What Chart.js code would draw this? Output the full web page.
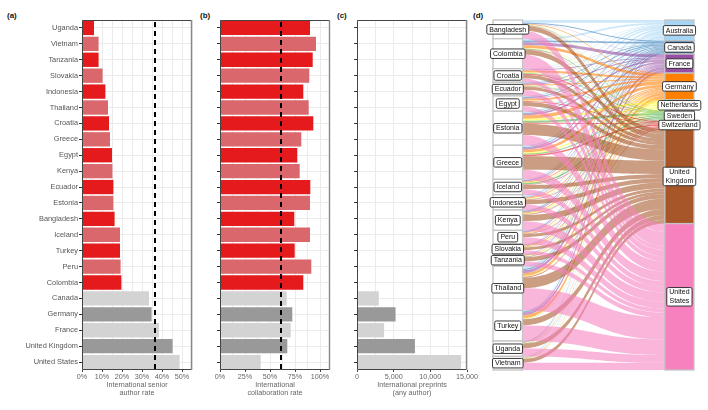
<!DOCTYPE html>
<html>
<head>
<meta charset="utf-8">
<script src="https://cdn.jsdelivr.net/npm/chart.js@4.4.1/dist/chart.umd.min.js"></script>
<style>
  body { margin: 0; background: #fff; width: 708px; height: 410px; position: relative; overflow: hidden;
         font-family: "Liberation Sans", Arial, sans-serif; }
  canvas { position: absolute; top: 0; }
  .tag { position: absolute; top: 12px; font-size: 8px; line-height: 8px; font-weight: bold; color: #111; }
</style>
</head>
<body>
<div class="tag" style="left:7px">(a)</div>
<div class="tag" style="left:200px">(b)</div>
<div class="tag" style="left:337px">(c)</div>
<div class="tag" style="left:473px">(d)</div>
<canvas id="ca" width="200" height="410" style="left:0px"></canvas>
<canvas id="cb" width="135" height="410" style="left:210px"></canvas>
<canvas id="cc" width="138" height="410" style="left:347px"></canvas>
<canvas id="cd" width="223" height="410" style="left:485px"></canvas>
<script>
// bar panels (a)-(c)
const countries = ['Uganda', 'Vietnam', 'Tanzania', 'Slovakia', 'Indonesia', 'Thailand', 'Croatia', 'Greece',
  'Egypt', 'Kenya', 'Ecuador', 'Estonia', 'Bangladesh', 'Iceland', 'Turkey', 'Peru', 'Colombia',
  'Canada', 'Germany', 'France', 'United Kingdom', 'United States'];
const seniorRate = [6.0, 8.3, 8.3, 10.3, 11.7, 13.0, 13.5, 14.0, 15.0, 15.2, 15.7, 15.7, 16.3, 19.0, 19.0,
  19.3, 19.7, 33.5, 34.8, 38.5, 45.3, 48.8];
const collabRate = [90.0, 96.0, 92.7, 89.3, 83.3, 88.7, 93.3, 81.3, 77.3, 79.7, 90.3, 90.0, 74.3, 90.0, 74.7,
  91.3, 83.3, 66.7, 72.3, 70.7, 67.3, 40.7];
const intlPreprints = [45, 40, 35, 30, 45, 130, 40, 100, 45, 60, 40, 100, 55, 45, 90, 40, 88,
  2970, 5260, 3700, 7900, 14200];
const seniorMean = 36.5;
const collabMean = 61;

const seniorTicks = [0, 10, 20, 30, 40, 50];
const seniorGrid = [0, 5, 10, 15, 20, 25, 30, 35, 40, 45, 50, 55];
const collabTicks = [0, 25, 50, 75, 100];
const collabGrid = [0, 12.5, 25, 37.5, 50, 62.5, 75, 87.5, 100];
const preprintTicks = [0, 5000, 10000, 15000];
const preprintGrid = [0, 2500, 5000, 7500, 10000, 12500, 15000];

// alluvial panel (d)
const sources = ['Bangladesh', 'Colombia', 'Croatia', 'Ecuador', 'Egypt', 'Estonia', 'Greece', 'Iceland',
  'Indonesia', 'Kenya', 'Peru', 'Slovakia', 'Tanzania', 'Thailand', 'Turkey', 'Uganda', 'Vietnam'];
const destinations = ['Australia', 'Canada', 'France', 'Germany', 'Netherlands', 'Sweden', 'Switzerland',
  'United Kingdom', 'United States'];
// rows: sources, columns: destinations
const flows = [
  [8, 3, 1, 2, 1, 1, 1, 14, 24],
  [5, 5, 9, 8, 2, 2, 1, 14, 42],
  [2, 1, 2, 6, 2, 2, 3, 10, 12],
  [2, 2, 3, 3, 1, 1, 1, 9, 18],
  [4, 3, 2, 5, 1, 1, 2, 12, 15],
  [5, 2, 5, 10, 6, 6, 3, 33, 30],
  [5, 3, 5, 8, 4, 3, 4, 40, 28],
  [2, 2, 2, 3, 2, 4, 2, 12, 16],
  [6, 1, 2, 3, 2, 1, 1, 12, 17],
  [2, 3, 2, 3, 2, 1, 2, 18, 27],
  [2, 2, 2, 2, 1, 1, 1, 9, 20],
  [1, 1, 2, 3, 1, 1, 1, 8, 12],
  [1, 1, 1, 2, 2, 1, 1, 12, 14],
  [8, 4, 9, 8, 2, 1, 2, 31, 65],
  [3, 4, 7, 9, 2, 1, 0, 18, 46],
  [1, 2, 1, 2, 1, 1, 0, 14, 23],
  [4, 0, 1, 1, 1, 1, 0, 11, 21]
];
const destColors = ['#a6d5f5', '#377eb8', '#984ea3', '#ff7f00', '#ffff33', '#4daf4a', '#e41a1c', '#a65628', '#f781bf'];

const FONT = '"Liberation Sans", Arial, sans-serif';
Chart.defaults.font.family = FONT;

function barColor(i) {
  const high = i >= 17;
  const alt = (i - (high ? 17 : 0)) % 2 === 1;
  if (high) return alt ? '#999999' : '#d3d3d3';
  return alt ? '#d9676b' : '#e41a1c';
}

const frame = {
  id: 'frame',
  afterDatasetsDraw(chart, args, opts) {
    const { ctx, chartArea: a, scales } = chart;
    ctx.save();
    if (opts.ref != null) {
      const x = scales.x.getPixelForValue(opts.ref);
      ctx.strokeStyle = '#000';
      ctx.lineWidth = 2;
      ctx.setLineDash([5, 4]);
      ctx.beginPath();
      ctx.moveTo(x, a.top + 2);
      ctx.lineTo(x, a.bottom);
      ctx.stroke();
      ctx.setLineDash([]);
    }
    ctx.strokeStyle = '#444';
    ctx.lineWidth = 1;
    ctx.beginPath();
    ctx.moveTo(a.right, a.top + 0.5);
    ctx.lineTo(a.left + 0.5, a.top + 0.5);
    ctx.lineTo(a.left + 0.5, a.bottom - 0.5);
    ctx.lineTo(a.right, a.bottom - 0.5);
    ctx.stroke();
    ctx.strokeStyle = '#888';
    ctx.lineWidth = 1.4;
    ctx.beginPath();
    ctx.moveTo(a.right - 0.5, a.top);
    ctx.lineTo(a.right - 0.5, a.bottom);
    ctx.stroke();
    ctx.restore();
  }
};

function barPanel(id, values, o) {
  return new Chart(document.getElementById(id), {
    type: 'bar',
    data: {
      labels: countries,
      datasets: [{
        data: values,
        backgroundColor: countries.map((c, i) => barColor(i)),
        barPercentage: 0.9,
        categoryPercentage: 1,
        borderWidth: 0
      }]
    },
    options: {
      indexAxis: 'y',
      responsive: false,
      animation: false,
      devicePixelRatio: 1,
      layout: { padding: { top: 20, bottom: 13, left: 0, right: o.padRight } },
      plugins: { legend: { display: false }, tooltip: { enabled: false }, frame: { ref: o.ref } },
      scales: {
        x: {
          min: 0,
          max: o.max,
          afterBuildTicks: s => { s.ticks = o.grid.map(v => ({ value: v })); },
          afterFit: s => { s.height = 27; s.paddingLeft = 0; s.paddingRight = 0; },
          ticks: {
            autoSkip: false, maxRotation: 0, padding: 1, color: '#666',
            font: { size: 7.2 },
            callback: v => o.ticks.includes(v) ? o.fmt(v) : ''
          },
          grid: {
            color: '#ebebeb', lineWidth: 1, tickLength: 2,
            tickColor: c => (c.tick && o.ticks.includes(c.tick.value)) ? '#444' : 'rgba(0,0,0,0)'
          },
          border: { display: false },
          title: { display: true, text: o.title, color: '#666', padding: 0, font: { size: 7.2, lineHeight: 1.1 } }
        },
        y: {
          afterFit: s => { s.width = o.yWidth; },
          ticks: { display: o.labels, autoSkip: false, padding: 1, color: '#555', font: { size: 7.4 } },
          grid: { offset: false, color: '#ebebeb', tickColor: '#333', tickLength: 3 },
          border: { display: false }
        }
      }
    },
    plugins: [frame]
  });
}

barPanel('ca', seniorRate, {
  max: 55, grid: seniorGrid, ticks: seniorTicks, fmt: v => v + '%', ref: seniorMean,
  title: ['International senior', 'author rate'], yWidth: 82, padRight: 8, labels: true
});
barPanel('cb', collabRate, {
  max: 110, grid: collabGrid, ticks: collabTicks, fmt: v => v + '%', ref: collabMean,
  title: ['International', 'collaboration rate'], yWidth: 10, padRight: 15, labels: false
});
barPanel('cc', intlPreprints, {
  max: 15000, grid: preprintGrid, ticks: preprintTicks, fmt: v => v.toLocaleString('en-US'), ref: null,
  title: ['International preprints', '(any author)'], yWidth: 10, padRight: 18, labels: false
});

// alluvial diagram drawn on a linear x/y scale pair
function rgba(hex, a) {
  const n = parseInt(hex.slice(1), 16);
  return 'rgba(' + (n >> 16) + ',' + ((n >> 8) & 255) + ',' + (n & 255) + ',' + a + ')';
}

function labelBox(ctx, lines, cx, cy) {
  ctx.font = '7px ' + FONT;
  const w = Math.max(...lines.map(l => ctx.measureText(l).width)) + 5;
  const lh = 9;
  const h = lines.length * lh + 0.5;
  ctx.beginPath();
  ctx.roundRect(cx - w / 2, cy - h / 2, w, h, 1.5);
  ctx.fillStyle = '#fff';
  ctx.fill();
  ctx.strokeStyle = '#222';
  ctx.lineWidth = 0.9;
  ctx.stroke();
  ctx.fillStyle = '#111';
  ctx.textAlign = 'center';
  ctx.textBaseline = 'middle';
  lines.forEach((l, k) => ctx.fillText(l, cx, cy - h / 2 + lh * (k + 0.5) + 0.5));
}

const leftW = 0.147, rightX = 0.855;

const alluvial = {
  id: 'alluvial',
  afterDatasetsDraw(chart) {
    const { ctx, scales: { x, y } } = chart;
    const srcTot = flows.map(r => r.reduce((s, v) => s + v, 0));
    const dstTot = destinations.map((d, j) => flows.reduce((s, r) => s + r[j], 0));
    const starts = arr => { let c = 0; return arr.map(v => { const s = c; c += v; return s; }); };
    const srcStart = starts(srcTot), dstStart = starts(dstTot);
    const xl = x.getPixelForValue(0), xa = x.getPixelForValue(leftW);
    const xb = x.getPixelForValue(rightX), xr = x.getPixelForValue(1);
    const mx = (xa + xb) / 2;
    const srcOff = srcStart.slice(), dstOff = dstStart.slice();
    ctx.save();
    destinations.forEach((d, j) => {
      sources.forEach((s, i) => {
        const v = flows[i][j];
        if (!v) return;
        const a0 = y.getPixelForValue(srcOff[i]), a1 = y.getPixelForValue(srcOff[i] + v);
        const b0 = y.getPixelForValue(dstOff[j]), b1 = y.getPixelForValue(dstOff[j] + v);
        srcOff[i] += v;
        dstOff[j] += v;
        ctx.beginPath();
        ctx.moveTo(xa, a0);
        ctx.bezierCurveTo(mx, a0, mx, b0, xb, b0);
        ctx.lineTo(xb, b1);
        ctx.bezierCurveTo(mx, b1, mx, a1, xa, a1);
        ctx.closePath();
        ctx.fillStyle = rgba(destColors[j], 0.58);
        ctx.fill();
      });
    });
    // strata
    ctx.lineWidth = 1.3;
    ctx.strokeStyle = '#c4c4c4';
    sources.forEach((s, i) => {
      const t = y.getPixelForValue(srcStart[i]), b = y.getPixelForValue(srcStart[i] + srcTot[i]);
      ctx.fillStyle = '#fff';
      ctx.fillRect(xl, t, xa - xl, b - t);
      ctx.strokeRect(xl, t, xa - xl, b - t);
    });
    destinations.forEach((d, j) => {
      const t = y.getPixelForValue(dstStart[j]), b = y.getPixelForValue(dstStart[j] + dstTot[j]);
      ctx.fillStyle = destColors[j];
      ctx.fillRect(xb, t, xr - xb, b - t);
      ctx.strokeRect(xb, t, xr - xb, b - t);
    });
    sources.forEach((s, i) => {
      const c = y.getPixelForValue(srcStart[i] + srcTot[i] / 2);
      labelBox(ctx, [s], (xl + xa) / 2, c);
    });
    destinations.forEach((d, j) => {
      const c = y.getPixelForValue(dstStart[j] + dstTot[j] / 2);
      labelBox(ctx, d.split(' '), (xb + xr) / 2, c);
    });
    ctx.restore();
  }
};

const grandTotal = flows.flat().reduce((s, v) => s + v, 0);

new Chart(document.getElementById('cd'), {
  type: 'scatter',
  data: { datasets: [{ data: [] }] },
  options: {
    responsive: false,
    animation: false,
    devicePixelRatio: 1,
    layout: { padding: { left: 8, right: 14, top: 20, bottom: 40 } },
    plugins: { legend: { display: false }, tooltip: { enabled: false } },
    scales: {
      x: { type: 'linear', min: 0, max: 1, display: false },
      y: { type: 'linear', min: 0, max: grandTotal, reverse: true, display: false }
    }
  },
  plugins: [alluvial]
});
</script>
</body>
</html>
